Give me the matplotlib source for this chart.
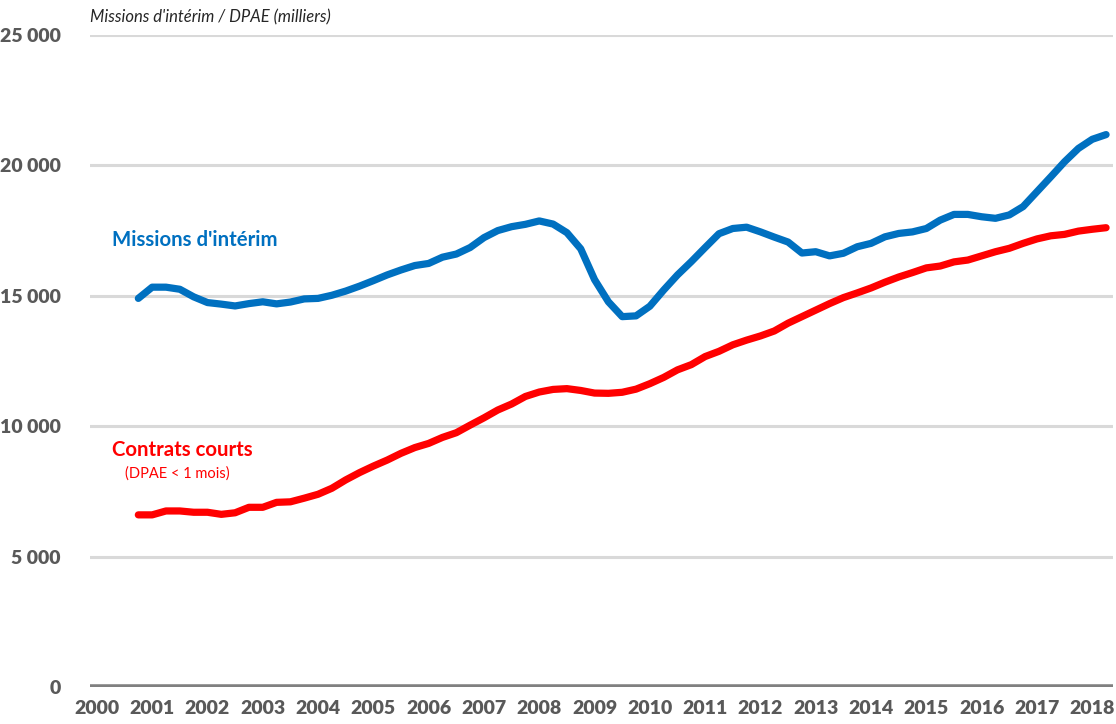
import numpy as np
import matplotlib
matplotlib.use("Agg")
import matplotlib.pyplot as plt
from matplotlib.ticker import FuncFormatter

# quarterly data, 2000Q4 .. 2018Q2 (milliers)
first_quarter = 2000.75
interim = [14900, 15330, 15330, 15250, 14960, 14740, 14680, 14610, 14700, 14770,
           14690, 14760, 14880, 14900, 15020, 15180, 15370, 15580, 15800, 15990,
           16160, 16240, 16480, 16600, 16850, 17230, 17500, 17650, 17740, 17870,
           17750, 17420, 16800, 15620, 14770, 14200, 14230, 14600, 15220, 15800,
           16310, 16850, 17380, 17580, 17630, 17450, 17250, 17060, 16640, 16690,
           16530, 16630, 16880, 17010, 17260, 17390, 17450, 17580, 17900, 18120,
           18120, 18030, 17970, 18100, 18420, 18990, 19560, 20140, 20650, 21000,
           21180]
courts = [6600, 6600, 6750, 6750, 6700, 6700, 6620, 6680, 6890, 6890,
          7080, 7100, 7240, 7390, 7620, 7940, 8220, 8470, 8700, 8960,
          9180, 9340, 9570, 9750, 10040, 10320, 10620, 10850, 11140, 11310,
          11410, 11440, 11370, 11270, 11260, 11300, 11420, 11630, 11870, 12160,
          12360, 12670, 12870, 13120, 13300, 13460, 13650, 13950, 14200, 14450,
          14700, 14930, 15110, 15300, 15520, 15720, 15890, 16070, 16140, 16300,
          16370, 16530, 16690, 16820, 17010, 17180, 17300, 17355, 17480, 17550,
          17610]
years = list(range(2000, 2019))
yticks = [0, 5000, 10000, 15000, 20000, 25000]

BLUE = "#0070C0"
RED = "#FF0000"
GREY = "#595959"

plt.rcParams['font.family'] = ['Lato', 'DejaVu Sans']

fig = plt.figure(figsize=(11.16, 7.24), dpi=100)
ax = fig.add_axes([0.0806, 0.0511, 0.9167, 0.9006])

x = first_quarter + 0.25 * np.arange(len(interim))
ax.plot(x, interim, color=BLUE, lw=5.2, solid_capstyle='round', solid_joinstyle='round', zorder=3)
ax.plot(x, courts, color=RED, lw=5.2, solid_capstyle='round', solid_joinstyle='round', zorder=3)

ax.set_xlim(1999.875, 2018.375)
ax.set_ylim(0, 25000)
ax.set_yticks(yticks)
ax.set_xticks(years)
ax.yaxis.set_major_formatter(FuncFormatter(lambda v, p: "{:,}".format(int(v)).replace(",", " ")))

for y in yticks[1:]:
    ax.axhline(y, color="#D9D9D9", lw=2.2, zorder=1)
ax.axhline(0, color="#808080", lw=4, zorder=2)

for s in ax.spines.values():
    s.set_visible(False)
ax.tick_params(axis='both', length=0, labelsize=14, labelcolor=GREY)
ax.tick_params(axis='y', pad=21)
ax.tick_params(axis='x', pad=9)
for lab in ax.get_xticklabels() + ax.get_yticklabels():
    lab.set_fontweight('heavy')

fig.text(0.0806, 0.976, "Missions d'intérim / DPAE (milliers)", fontsize=12,
         style='italic', color="#262626", va='center', ha='left')
ax.text(2000.28, 17130, "Missions d'intérim", color=BLUE, fontsize=14.7,
        fontweight='bold', ha='left', va='center')
ax.text(2000.28, 9090, "Contrats courts", color=RED, fontsize=14.7,
        fontweight='bold', ha='left', va='center')
ax.text(2001.46, 8200, "(DPAE < 1 mois)", color=RED, fontsize=10.5,
        ha='center', va='center')

fig.savefig("out.png", dpi=100)
